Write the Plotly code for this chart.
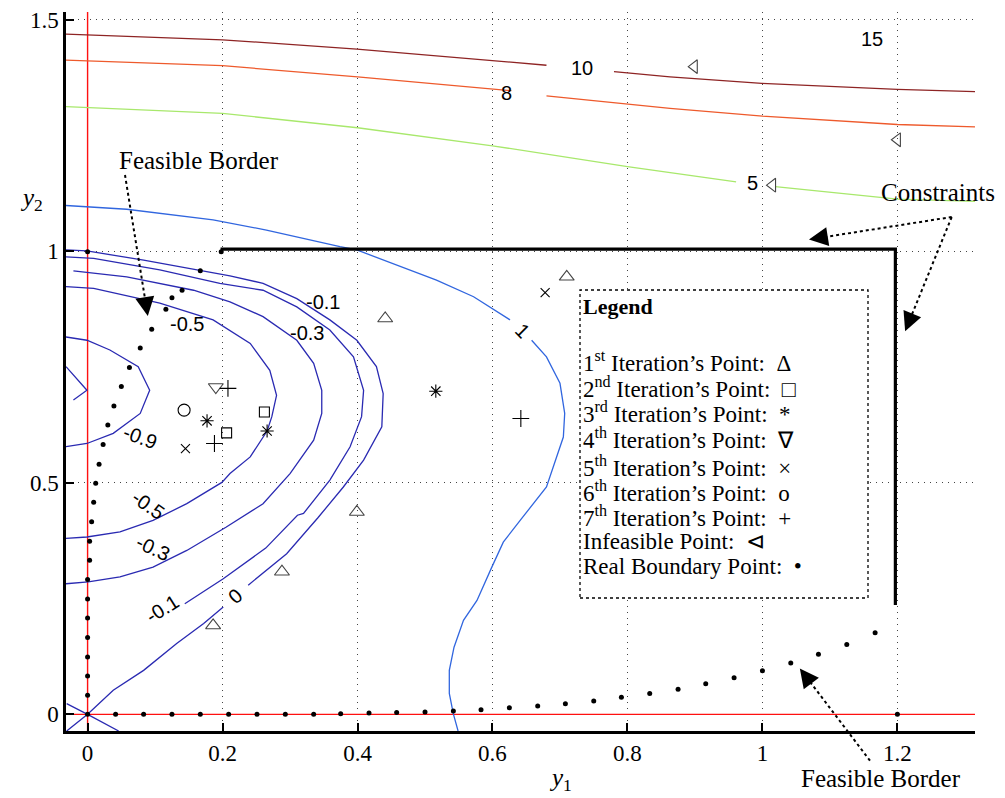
import plotly.graph_objects as go

# ---------------- data ----------------
# axis ranges
x_range = [-0.032, 1.315]
y_range = [-0.036, 1.517]

# reference red lines (y1 = 0 and y2 = 0)
red_v_x = [0, 0]
red_v_y = [-0.036, 1.517]
red_h_x = [-0.032, 1.315]
red_h_y = [0, 0]

# contour lines (None = gap for the label)
c10_x = [-0.032, 0.2, 0.399, 0.6, 0.680, None, 0.780, 0.863, 0.999, 1.2, 1.315]
c10_y = [1.469, 1.457, 1.437, 1.413, 1.402, None, 1.388, 1.377, 1.363, 1.350, 1.345]
c8_x = [-0.032, 0.2, 0.4, 0.6, 0.628, None, 0.680, 0.8, 0.863, 1.0, 1.2, 1.315]
c8_y = [1.413, 1.401, 1.377, 1.350, 1.347, None, 1.336, 1.318, 1.309, 1.292, 1.274, 1.269]
c5_x = [-0.032, 0.2, 0.4, 0.6, 0.8, 0.961, None, 1.019, 1.2, 1.315]
c5_y = [1.3125, 1.298, 1.267, 1.228, 1.183, 1.150, None, 1.140, 1.113, 1.108]
c1_x = [-0.032, 0.058, 0.186, 0.265, 0.374, 0.399, 0.517, 0.572, 0.626, None,
        0.658, 0.680, 0.700, 0.707, 0.705, 0.680, 0.641, 0.616, 0.599, 0.577,
        0.557, 0.543, 0.536, 0.536, 0.542, 0.549]
c1_y = [1.099, 1.091, 1.068, 1.046, 1.010, 1.003, 0.938, 0.902, 0.852, None,
        0.808, 0.772, 0.715, 0.650, 0.599, 0.491, 0.419, 0.372, 0.318, 0.246,
        0.203, 0.145, 0.095, 0.045, 0.001, -0.036]
c0_x = [-0.032, -0.001, 0.083, 0.167, 0.211, 0.260, 0.310, 0.359, 0.399, 0.428,
        0.438, 0.436, 0.409, 0.379, 0.341, 0.295, 0.238, None,
        0.201, 0.172, 0.132, 0.083, 0.038, 0.0, -0.031, None,
        -0.031, 0.0, 0.046]
c0_y = [1.003, 1.001, 0.981, 0.958, 0.947, 0.931, 0.898, 0.852, 0.808, 0.751,
        0.693, 0.621, 0.549, 0.491, 0.424, 0.347, 0.279, None,
        0.232, 0.196, 0.153, 0.095, 0.052, 0.0, -0.036, None,
        0.023, 0.0, -0.036]
cm01_x = [-0.032, 0.009, 0.107, 0.196, 0.260, 0.310, 0.359, 0.394, 0.409, 0.406,
          0.389, 0.359, 0.320, 0.311, 0.264, 0.201, 0.144]
cm01_y = [0.988, 0.985, 0.960, 0.931, 0.916, 0.880, 0.830, 0.772, 0.700, 0.643,
          0.578, 0.506, 0.434, 0.430, 0.359, 0.293, 0.239]
cm03_x = [-0.021, 0.058, 0.157, 0.211, 0.260, 0.310, 0.335, 0.347, 0.347, 0.335,
          0.300, 0.260, 0.205, 0.147, 0.097, 0.048, 0.001, -0.032]
cm03_y = [0.958, 0.945, 0.916, 0.891, 0.859, 0.808, 0.758, 0.700, 0.650, 0.592,
          0.520, 0.455, 0.404, 0.354, 0.318, 0.297, 0.286, 0.282]
cm05_x = [-0.032, 0.009, 0.107, 0.186, 0.241, 0.270, 0.280, 0.273, 0.266, 0.241,
          0.211, 0.199, 0.147, 0.097, 0.048, -0.001, -0.032]
cm05_y = [0.924, 0.920, 0.888, 0.852, 0.801, 0.743, 0.689, 0.643, 0.612, 0.556,
          0.520, 0.501, 0.455, 0.419, 0.394, 0.383, 0.380]
cm09_x = [-0.032, -0.001, 0.033, 0.075, 0.092, 0.078, 0.038, -0.001, -0.032]
cm09_y = [0.815, 0.808, 0.787, 0.751, 0.700, 0.650, 0.607, 0.585, 0.578]
cm1_x = [-0.032, -0.001, -0.021]
cm1_y = [0.751, 0.700, 0.679]

# contour labels
clabel_text = ["15", "10", "8", "5", "1", "-0.1", "-0.3", "-0.5", "-0.9",
               "-0.5", "-0.3", "-0.1", "0"]
clabel_x = [1.163, 0.732, 0.621, 0.985, 0.645, 0.349, 0.325, 0.147, 0.078,
            0.090, 0.097, 0.110, 0.219]
clabel_y = [1.458, 1.395, 1.341, 1.147, 0.828, 0.891, 0.824, 0.843, 0.599,
            0.452, 0.360, 0.228, 0.255]
clabel_angle = [0, 0, 0, 0, 45, 0, 0, 0, 20, 35, 25, -32, -40]

# constraint (L shaped)
cons_x = [0.197, 1.197, 1.197]
cons_y = [1.005, 1.005, 0.236]

# iteration points
iter1_x = [0.710, 0.441, 0.399, 0.288, 0.186]
iter1_y = [0.945, 0.855, 0.437, 0.308, 0.192]
iter2_x = [0.262, 0.206]
iter2_y = [0.653, 0.608]
iter3_x = [0.177, 0.266, 0.516]
iter3_y = [0.634, 0.612, 0.698]
iter4_x = [0.190]
iter4_y = [0.707]
iter5_x = [0.145, 0.678]
iter5_y = [0.574, 0.911]
iter6_x = [0.143]
iter6_y = [0.657]
iter7_x = [0.208, 0.188, 0.642]
iter7_y = [0.704, 0.585, 0.639]
infeas_x = [0.899, 1.200, 1.015]
infeas_y = [1.399, 1.241, 1.143]

# real boundary points
bnd_x = [0.0, 0.0, 0.0, 0.0, 0.0, 0.0, 0.0, 0.0, 0.003, 0.003, 0.006, 0.009,
         0.012, 0.017, 0.023, 0.030, 0.039, 0.050, 0.062, 0.078, 0.095, 0.116,
         0.125, 0.140, 0.167, 0.198, 0.0,
         0.0415, 0.083, 0.125, 0.167, 0.209, 0.251, 0.293, 0.335,
         0.375, 0.417, 0.458, 0.500, 0.542, 0.583, 0.625, 0.667, 0.708, 0.750,
         0.791, 0.833, 0.875, 0.916, 0.958, 1.000, 1.042, 1.083, 1.125, 1.167,
         1.200]
bnd_y = [0.0, 0.041, 0.083, 0.124, 0.166, 0.208, 0.249, 0.291, 0.333, 0.374,
         0.416, 0.458, 0.499, 0.540, 0.583, 0.625, 0.666, 0.708, 0.749, 0.791,
         0.832, 0.875, 0.900, 0.916, 0.958, 0.999, 0.999,
         0.0, 0.0, 0.0, 0.0, 0.0, 0.0, 0.0, 0.0,
         0.0015, 0.003, 0.004, 0.005, 0.007, 0.010, 0.014, 0.018, 0.023, 0.029,
         0.037, 0.045, 0.054, 0.066, 0.079, 0.094, 0.111, 0.130, 0.151, 0.176,
         0.0]

x_ticks = [0, 0.2, 0.4, 0.6, 0.8, 1, 1.2]
x_ticklabels = ["0", "0.2", "0.4", "0.6", "0.8", "1", "1.2"]
y_ticks = [0, 0.5, 1, 1.5]
y_ticklabels = ["0", "0.5", "1", "1.5"]

legend_rows = ["1<sup>st</sup> Iteration\u2019s Point:  \u0394",
               "2<sup>nd</sup> Iteration\u2019s Point:  \u25A1",
               "3<sup>rd</sup> Iteration\u2019s Point:  *",
               "4<sup>th</sup> Iteration\u2019s Point:  \u2207",
               "5<sup>th</sup> Iteration\u2019s Point:  \u00D7",
               "6<sup>th</sup> Iteration\u2019s Point:  o",
               "7<sup>th</sup> Iteration\u2019s Point:  +",
               "Infeasible Point:  \u22B2",
               "Real Boundary Point:  \u2022"]

# ---------------- figure ----------------
OFF = 8  # page body margin of the browser
W, H = 1005 - OFF, 798 - OFF
ML, MR, MT, MB = 66 - OFF, 30, 12 - OFF, 67
PW, PH = W - ML - MR, H - MT - MB


def pxp(px):
    return (px - OFF - ML) / PW


def pyp(py):
    return 1 - (py - OFF - MT) / PH


SERIF = "Liberation Serif, Times New Roman, serif"
SANS = "Liberation Sans, Arial, sans-serif"

fig = go.Figure()

fig.add_trace(go.Scatter(x=red_v_x, y=red_v_y, mode="lines",
                         line=dict(color="#FF1010", width=1.4)))
fig.add_trace(go.Scatter(x=red_h_x, y=red_h_y, mode="lines",
                         line=dict(color="#FF1010", width=1.4)))

contours = [
    (c10_x, c10_y, "#8E2424"),
    (c8_x, c8_y, "#EE5A2C"),
    (c5_x, c5_y, "#A8E86C"),
    (c1_x, c1_y, "#3166DF"),
    (c0_x, c0_y, "#2A2AB2"),
    (cm01_x, cm01_y, "#2A2AB2"),
    (cm03_x, cm03_y, "#2A2AB2"),
    (cm05_x, cm05_y, "#2A2AB2"),
    (cm09_x, cm09_y, "#2A2AB2"),
    (cm1_x, cm1_y, "#2A2AB2"),
]
for cx, cy, col in contours:
    fig.add_trace(go.Scatter(x=cx, y=cy, mode="lines", connectgaps=False,
                             line=dict(color=col, width=1.3)))

fig.add_trace(go.Scatter(x=cons_x, y=cons_y, mode="lines",
                         line=dict(color="black", width=3.2)))

markers = [
    (iter1_x, iter1_y, "triangle-up-open", 13, "#444444"),
    (iter2_x, iter2_y, "square-open", 10, "black"),
    (iter3_x, iter3_y, "asterisk-open", 11, "black"),
    (iter4_x, iter4_y, "triangle-down-open", 13, "#444444"),
    (iter5_x, iter5_y, "x-thin-open", 9, "black"),
    (iter6_x, iter6_y, "circle-open", 12, "black"),
    (iter7_x, iter7_y, "cross-thin-open", 12, "black"),
    (infeas_x, infeas_y, "triangle-left-open", 12, "#444444"),
]
for mx, my, sym, sz, col in markers:
    fig.add_trace(go.Scatter(x=mx, y=my, mode="markers",
                             marker=dict(symbol=sym, size=sz,
                                         line=dict(color=col, width=1.1),
                                         color=col)))

fig.add_trace(go.Scatter(x=bnd_x, y=bnd_y, mode="markers",
                         marker=dict(symbol="circle", size=5, color="black")))

annotations = []
for t, x, y, a in zip(clabel_text, clabel_x, clabel_y, clabel_angle):
    annotations.append(dict(x=x, y=y, text=t, showarrow=False, textangle=a,
                            xanchor="center", yanchor="middle",
                            font=dict(family=SANS, size=20, color="black")))


def ptext(px, py, text, size, xanchor="center"):
    annotations.append(dict(xref="paper", yref="paper", x=pxp(px), y=pyp(py), text=text,
                            showarrow=False, xanchor=xanchor, yanchor="middle",
                            borderpad=0,
                            font=dict(family=SERIF, size=size, color="black")))


ptext(199, 160, "Feasible Border", 25)
ptext(938, 193, "Constraints", 25)
ptext(881, 778, "Feasible Border", 25)
ptext(31, 199, "<i>y</i><sub>2</sub>", 25)
ptext(560, 779, "<i>y</i><sub>1</sub>", 25)

# legend box text
ptext(582, 306, "<b>Legend</b>", 22, xanchor="left")
row_py = [361.7, 387.5, 412.5, 439, 466, 491.5, 516.7, 541.7, 566.7]
for t, py in zip(legend_rows, row_py):
    ptext(582, py, t, 23, xanchor="left")

shapes = [dict(type="rect", xref="paper", yref="paper", x0=pxp(580), x1=pxp(868),
               y0=pyp(598), y1=pyp(290), fillcolor="white",
               line=dict(color="black", width=1.3, dash="dot"), layer="above")]

# dotted arrows (tail px, tip px)
arrows = [((125, 175), (148.3, 319)),
          ((951.7, 217), (806, 240)),
          ((951.7, 217), (904, 334)),
          ((870, 760.7), (798, 666))]
HEAD = 18
for (tx, ty), (hx, hy) in arrows:
    dx, dy = hx - tx, hy - ty
    L = (dx * dx + dy * dy) ** 0.5
    ux, uy = dx / L, dy / L
    bx, by = hx - ux * HEAD * 0.8, hy - uy * HEAD * 0.8
    shapes.append(dict(type="line", xref="paper", yref="paper",
                       x0=pxp(tx), y0=pyp(ty), x1=pxp(bx), y1=pyp(by),
                       line=dict(color="black", width=2, dash="dot"), layer="above"))
    annotations.append(dict(xref="paper", yref="paper",
                            x=pxp(hx - ux * 3), y=pyp(hy - uy * 3),
                            ax=-ux * HEAD, ay=-uy * HEAD,
                            text="", showarrow=True, arrowhead=2, arrowsize=1.9,
                            arrowwidth=2, arrowcolor="black", standoff=0))

axis_common = dict(showgrid=True, gridcolor="#444444", griddash="1px,5px", gridwidth=1,
                   zeroline=False, showline=True, linecolor="black", linewidth=2.5,
                   ticks="inside", ticklen=8, tickwidth=2, tickcolor="black",
                   automargin=False, ticklabeloverflow="allow",
                   tickfont=dict(family=SERIF, size=23, color="black"))

fig.update_layout(
    width=W, height=H,
    margin=dict(l=ML, r=MR, t=MT, b=MB),
    paper_bgcolor="white", plot_bgcolor="white",
    showlegend=False,
    annotations=annotations,
    shapes=shapes,
    xaxis=dict(range=x_range, tickvals=x_ticks, ticktext=x_ticklabels, **axis_common),
    yaxis=dict(range=y_range, tickvals=y_ticks, ticktext=y_ticklabels, **axis_common),
)

fig.write_html("out.html")
